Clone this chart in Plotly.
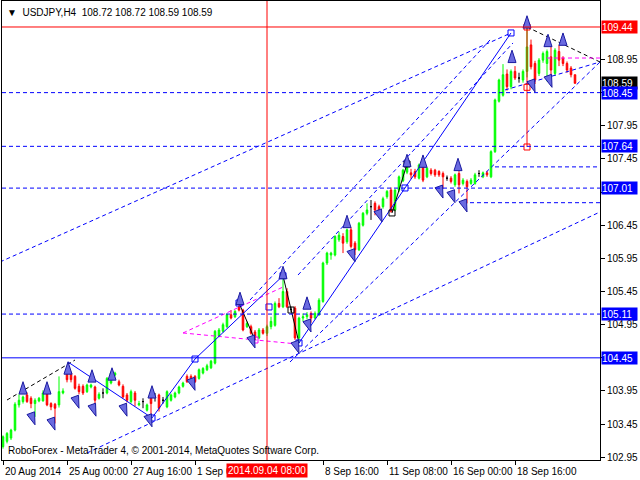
import plotly.graph_objects as go

# ---------------- data (bar index = H4 bar number from 20 Aug 2014) ----------------
opens = [103.11,103.19,103.24,103.36,103.74,103.79,103.89,103.84,103.76,103.80,
         103.80,103.92,103.76,103.75,103.74,103.92,104.24,104.22,104.17,104.02,
         104.02,103.94,104.01,104.01,103.84,103.92,103.92,104.07,104.19,104.09,
         104.02,103.89,103.79,103.92,103.74,103.79,103.66,103.89,103.86,103.89,
         103.81,103.71,103.81,103.86,103.92,104.02,104.17,104.17,104.17,104.14,
         104.22,104.27,104.30,104.37,104.78,104.85,104.92,105.10,105.07,105.22,
         105.17,104.92,104.92,104.84,104.75,104.87,104.82,104.92,104.94,105.27,
         105.22,105.45,105.18,105.20,104.75,105.05,105.07,105.12,105.05,105.10,
         105.30,105.88,106.00,106.00,106.23,106.28,106.20,106.38,106.18,106.08,
         106.45,106.63,106.73,106.78,106.73,106.73,106.88,106.98,106.68,106.98,
         107.12,107.25,107.24,107.26,107.16,107.33,107.18,107.28,107.28,107.26,
         107.23,107.16,107.16,107.06,107.23,107.08,107.11,107.08,107.08,107.23,
         107.18,107.24,107.18,107.56,108.32,108.41,108.73,108.54,108.77,108.67,
         108.64,108.77,109.17,108.89,108.74,108.94,108.89,108.99,108.74,109.07,
         108.97,108.89,108.82,108.72]
highs = [103.28,103.33,103.38,103.78,103.90,103.88,103.93,103.87,103.84,103.86,
         103.96,103.96,103.78,103.77,104.17,103.99,104.26,104.24,104.19,104.06,
         104.05,104.06,104.06,104.03,103.93,103.99,104.16,104.24,104.24,104.12,
         104.05,103.92,103.97,103.95,103.80,103.84,103.76,103.92,103.92,103.91,
         103.86,103.96,103.91,103.94,104.03,104.09,104.20,104.20,104.19,104.29,
         104.31,104.36,104.42,104.87,104.90,104.98,105.12,105.17,105.17,105.28,
         105.19,105.00,104.95,104.87,104.90,104.90,104.95,105.07,105.30,105.35,
         105.68,105.50,105.22,105.23,105.07,105.12,105.14,105.15,105.15,105.35,
         105.90,106.05,106.05,106.30,106.35,106.33,106.40,106.42,106.21,106.50,
         106.65,106.78,106.83,106.81,106.76,106.88,106.98,107.02,107.00,107.20,
         107.30,107.40,107.30,107.30,107.38,107.37,107.33,107.31,107.30,107.28,
         107.26,107.20,107.19,107.23,107.27,107.16,107.14,107.16,107.24,107.28,
         107.26,107.27,107.58,108.36,108.66,108.88,108.80,108.80,108.85,108.75,
         108.80,109.44,109.25,108.93,108.97,109.07,109.10,109.15,109.12,109.17,
         109.00,108.92,108.85,108.72]
lows = [103.08,103.16,103.21,103.34,103.70,103.76,103.77,103.69,103.56,103.78,
        103.79,103.72,103.66,103.46,103.70,103.90,104.08,104.08,103.97,103.90,
        103.89,103.92,103.99,103.74,103.82,103.84,103.90,104.05,104.17,104.02,
        103.84,103.78,103.76,103.72,103.72,103.69,103.64,103.52,103.79,103.64,
        103.76,103.69,103.79,103.84,103.90,104.00,104.07,104.10,104.07,104.12,
        104.20,104.25,104.28,104.35,104.76,104.83,104.90,105.03,105.05,105.15,
        104.85,104.90,104.80,104.72,104.73,104.80,104.78,104.88,104.92,105.20,
        105.20,105.20,105.14,104.72,104.67,105.00,105.03,104.98,105.03,105.08,
        105.28,105.85,105.93,105.98,106.20,106.03,106.17,106.10,106.00,106.06,
        106.43,106.60,106.53,106.60,106.58,106.70,106.85,106.64,106.66,106.95,
        107.10,107.22,107.15,107.15,107.14,107.10,107.16,107.20,107.18,107.18,
        107.00,107.12,107.08,107.03,106.93,107.05,106.78,107.06,107.06,107.18,
        107.16,107.18,107.16,107.54,108.30,108.39,108.48,108.50,108.64,108.60,
        108.60,108.68,108.80,108.58,108.70,108.90,108.62,108.70,108.70,108.85,
        108.85,108.75,108.68,108.59]
closes = [103.26,103.31,103.36,103.75,103.81,103.86,103.79,103.76,103.81,103.84,
          103.92,103.74,103.71,103.69,103.94,103.95,104.12,104.12,103.99,103.94,
          103.92,104.04,104.04,103.81,103.90,103.92,104.14,104.22,104.22,104.04,
          103.86,103.81,103.94,103.81,103.76,103.79,103.74,103.76,103.86,103.69,
          103.81,103.94,103.89,103.92,104.01,104.07,104.09,104.12,104.09,104.27,
          104.29,104.33,104.40,104.85,104.87,104.95,105.10,105.05,105.15,105.17,
          104.87,104.97,104.82,104.75,104.87,104.82,104.92,105.00,105.27,105.22,
          105.45,105.22,105.18,104.75,105.05,105.07,105.10,105.05,105.12,105.32,
          105.88,106.03,106.03,106.28,106.30,106.18,106.38,106.13,106.08,106.48,
          106.63,106.68,106.73,106.68,106.63,106.85,106.96,106.66,106.98,107.18,
          107.28,107.36,107.21,107.18,107.36,107.13,107.31,107.23,107.21,107.21,
          107.18,107.16,107.11,107.21,107.06,107.13,107.03,107.13,107.21,107.23,
          107.24,107.21,107.56,108.34,108.64,108.72,108.54,108.77,108.67,108.67,
          108.77,109.14,108.84,108.64,108.94,109.04,109.07,108.79,109.09,108.94,
          108.89,108.79,108.72,108.59]

date_tick_bars = [0, 16, 32, 48, 80, 96, 112, 128]
date_tick_labels = ["20 Aug 2014", "25 Aug 00:00", "27 Aug 16:00", "1 Sep 08:00",
                    "8 Sep 16:00", "11 Sep 08:00", "16 Sep 00:00", "18 Sep 16:00"]
price_ticks = [108.95, 108.45, 107.95, 107.45, 106.95, 106.45, 105.95, 105.45,
               104.95, 104.45, 103.95, 103.45, 102.95]
hidden_price_ticks = [108.45, 106.95, 104.45]

level_prices = [108.45, 107.64, 107.01, 105.11, 104.45]
level_solid = [False, False, False, False, True]
high_level = 109.44
last_price = 108.59
cursor_bar = 66
cursor_label = "2014.09.04 08:00"

up_arrow_bars = [5, 11, 16.25, 22.25, 27.25, 37.25, 59.25, 70, 76, 86, 101, 105, 113.75, 127.25, 131, 136.25, 140]
up_arrow_prices = [104.09, 104.09, 104.39, 104.27, 104.30, 104.03, 105.44, 105.83, 105.37, 106.60,
                   107.52, 107.51, 107.46, 109.09, 109.61, 109.33, 109.35]
down_arrow_bars = [8, 13, 19, 23.25, 31, 37.25, 48, 63, 74, 77, 88, 94.75, 110, 113, 116, 133, 137.25]
down_arrow_prices = [103.44, 103.36, 103.69, 103.57, 103.57, 103.41, 103.96, 104.60, 104.52, 104.84,
                     105.90, 106.50, 106.86, 106.79, 106.65, 108.46, 108.53]

# trend drawings: (bar0, price0, bar1, price1)
blue_dashed_lines = [(-0.75, 105.896, 127, 109.35), (21, 103.015, 149.25, 106.65),
                     (71.75, 104.387, 149.25, 108.912), (73.75, 105.699, 127.5, 109.199),
                     (61.75, 105.322, 121.75, 109.244), (125.5, 108.49, 149.25, 108.912),
                     (123, 107.33, 149.25, 107.33), (116.75, 106.79, 149.25, 106.79)]
black_dashed_lines = [(1, 103.814, 18, 104.417), (131, 109.44, 149.25, 108.912)]
magenta_dashed_lines = [(45, 104.825, 70, 105.518), (45, 104.825, 73.5, 104.659),
                        (136, 108.972, 149.25, 108.972)]
zigzag_a_bars = [16.25, 37.25, 48, 70]
zigzag_a_prices = [104.387, 103.543, 104.432, 105.688]
zigzag_b_bars = [74, 127]
zigzag_b_prices = [104.674, 109.35]
black_zig = [(59, 105.277, 63, 104.719), (70, 105.688, 74, 104.674), (97.25, 106.635, 101, 107.374)]
red_vertical = (131, 109.44, 131, 107.63)
blue_box_bars = [37.25, 48, 59, 66.5, 70, 74, 100.5, 127]
blue_box_prices = [103.543, 104.432, 105.277, 105.217, 105.688, 104.674, 107.012, 109.35]
black_box_bars = [72, 97.25, 101]
black_box_prices = [105.171, 106.635, 107.374]
magenta_box_bars = [63]
magenta_box_prices = [104.719]
red_box_bars = [131, 131, 131]
red_box_prices = [109.44, 108.53, 107.63]

FONT = "Liberation Sans"
BLUE = "#0000ff"

fig = go.Figure()

bars = list(range(len(closes)))
groups = {"up": [], "down": [], "doji": []}
for i in bars:
    if abs(closes[i] - opens[i]) < 1e-9:
        groups["doji"].append(i)
    elif closes[i] > opens[i]:
        groups["up"].append(i)
    else:
        groups["down"].append(i)

colors = {"up": "#00ff00", "down": "#ff0000", "doji": "#000000"}
for key, idx in groups.items():
    c = colors[key]
    fig.add_trace(go.Candlestick(
        x=idx, open=[opens[i] for i in idx], high=[highs[i] for i in idx],
        low=[lows[i] for i in idx], close=[closes[i] for i in idx],
        increasing=dict(line=dict(color=c, width=1), fillcolor=c),
        decreasing=dict(line=dict(color=c, width=1), fillcolor=c),
        whiskerwidth=0, showlegend=False, hoverinfo="skip"))

def add_segs(segs, color, dash):
    for (x0, y0, x1, y1) in segs:
        fig.add_trace(go.Scatter(x=[x0, x1], y=[y0, y1], mode="lines",
                                 line=dict(color=color, width=1, dash=dash),
                                 showlegend=False, hoverinfo="skip"))

add_segs(blue_dashed_lines, BLUE, "4px,3px")
add_segs(black_dashed_lines, "#000000", "4px,3px")
add_segs(magenta_dashed_lines, "#ff00ff", "4px,3px")
add_segs(black_zig, "#000000", "solid")
add_segs([red_vertical], "#ff0000", "solid")
fig.add_trace(go.Scatter(x=zigzag_a_bars, y=zigzag_a_prices, mode="lines",
                         line=dict(color=BLUE, width=1), showlegend=False, hoverinfo="skip"))
fig.add_trace(go.Scatter(x=zigzag_b_bars, y=zigzag_b_prices, mode="lines",
                         line=dict(color=BLUE, width=1), showlegend=False, hoverinfo="skip"))

for bx, by, col in [(blue_box_bars, blue_box_prices, BLUE), (black_box_bars, black_box_prices, "#000000"),
                    (magenta_box_bars, magenta_box_prices, "#ff00ff"), (red_box_bars, red_box_prices, "#ff0000")]:
    fig.add_trace(go.Scatter(x=bx, y=by, mode="markers",
                             marker=dict(symbol="square-open", size=6, color=col, line=dict(width=1, color=col)),
                             showlegend=False, hoverinfo="skip"))

fig.add_trace(go.Scatter(x=up_arrow_bars, y=up_arrow_prices, mode="markers",
                         marker=dict(symbol="arrow", size=13, color="#6a6ae0",
                                     line=dict(width=1, color="#1a1aa0")),
                         showlegend=False, hoverinfo="skip"))
fig.add_trace(go.Scatter(x=down_arrow_bars, y=down_arrow_prices, mode="markers",
                         marker=dict(symbol="arrow", size=13, angle=160, color="#6a6ae0",
                                     line=dict(width=1, color="#1a1aa0")),
                         showlegend=False, hoverinfo="skip"))

shapes = []
for p, solid in zip(level_prices, level_solid):
    shapes.append(dict(type="line", xref="paper", x0=0, x1=1, yref="y", y0=p, y1=p,
                       line=dict(color=BLUE, width=1, dash="solid" if solid else "4px,3px")))
shapes.append(dict(type="line", xref="paper", x0=0, x1=1, yref="y", y0=high_level, y1=high_level,
                   line=dict(color="#ff0000", width=1)))
shapes.append(dict(type="line", xref="x", x0=cursor_bar, x1=cursor_bar, yref="paper", y0=0, y1=1,
                   line=dict(color="#ff0000", width=1)))

annotations = []
for b, t in zip(date_tick_bars, date_tick_labels):
    annotations.append(dict(x=b, xref="x", y=0, yref="paper", text=t, showarrow=False,
                            xanchor="left", yanchor="top", xshift=0, yshift=-4,
                            font=dict(family=FONT, size=10, color="#000")))
annotations.append(dict(x=cursor_bar, xref="x", y=0, yref="paper", text=cursor_label, showarrow=False,
                        xanchor="center", yanchor="top", yshift=-3, bgcolor="#ff0000", borderpad=1,
                        font=dict(family=FONT, size=10, color="#fff")))

def price_label(p, bg):
    return dict(x=1, xref="paper", y=p, yref="y", text=f"{p:.2f}", showarrow=False,
                xanchor="left", yanchor="middle", xshift=1, bgcolor=bg, borderpad=0,
                width=35, height=12, align="left",
                font=dict(family=FONT, size=10, color="#fff"))

annotations.append(price_label(high_level, "#ff0000"))
annotations.append(price_label(last_price, "#000000"))
for p in level_prices:
    annotations.append(price_label(p, BLUE))

annotations.append(dict(x=0, xref="paper", y=1, yref="paper", xshift=3, yshift=-4,
                        text="▼  USDJPY,H4  108.72 108.72 108.59 108.59", showarrow=False,
                        xanchor="left", yanchor="top", font=dict(family=FONT, size=10, color="#000")))
annotations.append(dict(x=0, xref="paper", y=0, yref="paper", xshift=4, yshift=2,
                        text="RoboForex - MetaTrader 4, © 2001-2014, MetaQuotes Software Corp.",
                        showarrow=False, xanchor="left", yanchor="bottom",
                        font=dict(family=FONT, size=10, color="#000")))

fig.update_layout(
    width=640, height=480, margin=dict(l=2, r=40, t=1, b=20),
    paper_bgcolor="#ffffff", plot_bgcolor="#ffffff",
    boxgap=0.45, showlegend=False, shapes=shapes, annotations=annotations,
    xaxis=dict(range=[-0.25, 149.25], showgrid=False, zeroline=False, rangeslider=dict(visible=False),
               tickvals=date_tick_bars, ticks="outside", ticklen=4, tickcolor="#000",
               showticklabels=False, showline=True, linecolor="#000", mirror=True, fixedrange=True),
    yaxis=dict(range=[102.909, 109.832], side="right", showgrid=False, zeroline=False,
               tickvals=price_ticks,
               ticktext=["" if v in hidden_price_ticks else f"{v:.2f}" for v in price_ticks],
               ticks="outside", ticklen=4, tickcolor="#000",
               tickfont=dict(family=FONT, size=10, color="#000"),
               showline=True, linecolor="#000", mirror=True, fixedrange=True),
)

fig.write_html("out.html", config={"displayModeBar": False},
               post_script="document.body.style.margin='0';document.body.style.padding='0';")
